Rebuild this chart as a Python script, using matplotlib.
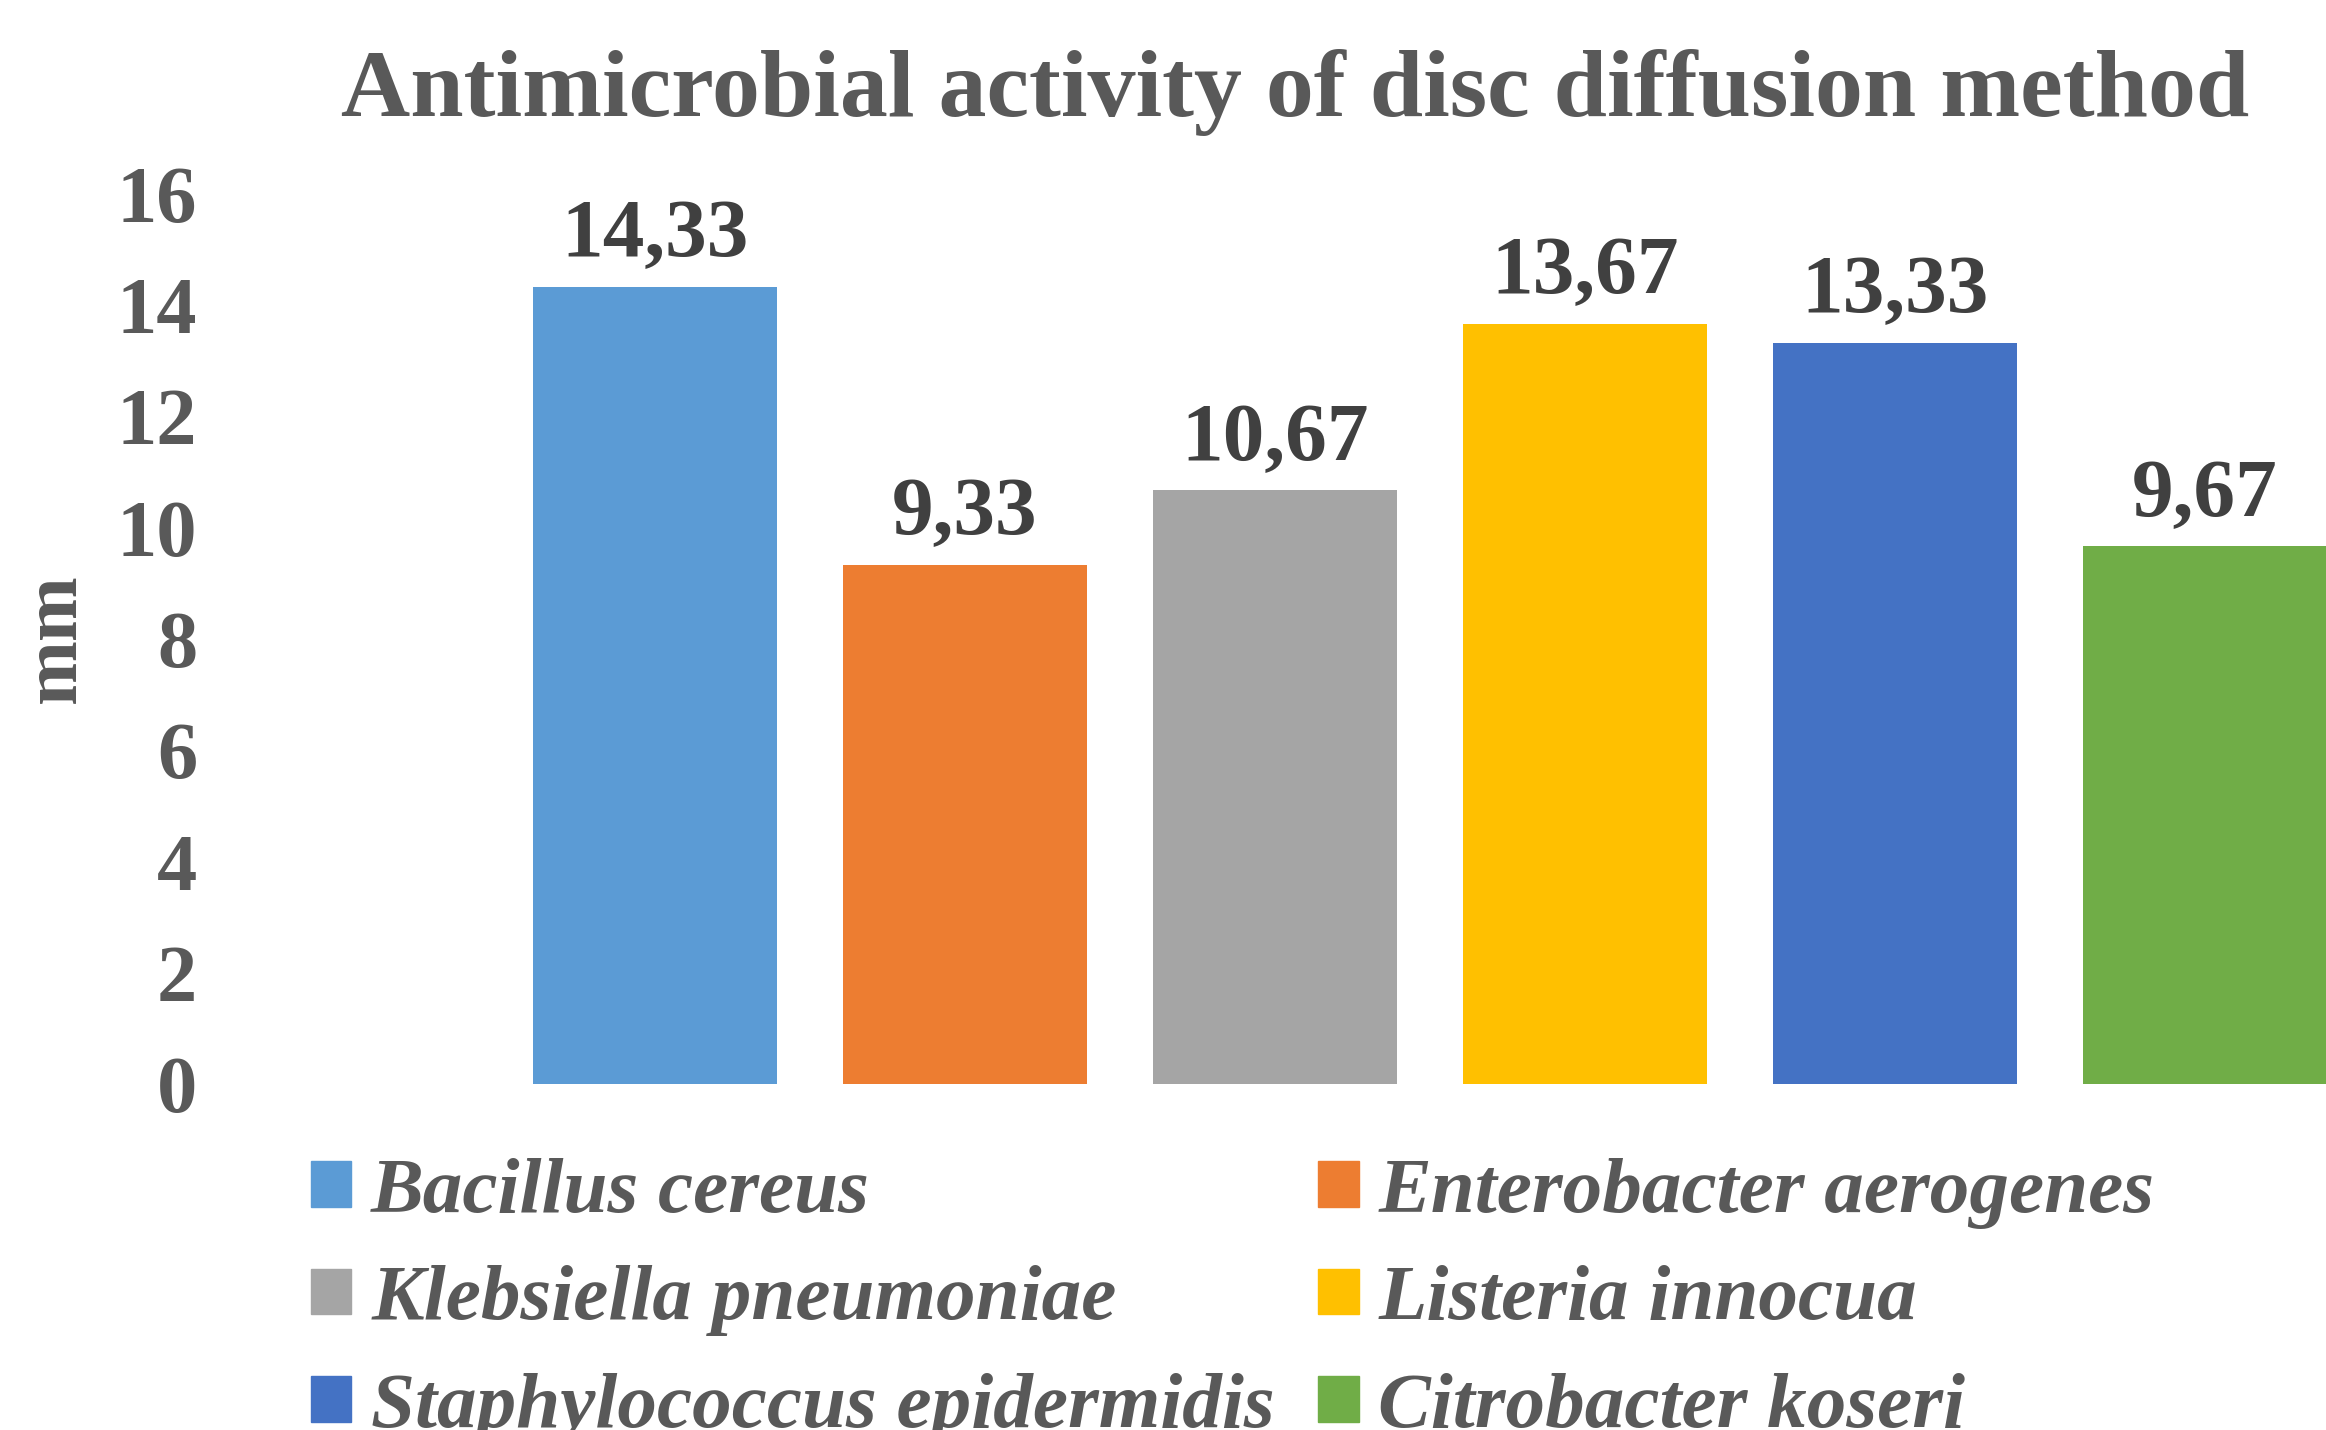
import numpy as np
import matplotlib.pyplot as plt
from matplotlib.patches import Patch

# dati
specie = ['Bacillus cereus', 'Enterobacter aerogenes', 'Klebsiella pneumoniae',
          'Listeria innocua', 'Staphylococcus epidermidis', 'Citrobacter koseri']
valori = [14.33, 9.33, 10.67, 13.67, 13.33, 9.67]
etichette = ['14,33', '9,33', '10,67', '13,67', '13,33', '9,67']
colori = ['#5B9BD5', '#ED7D31', '#A5A5A5', '#FFC000', '#4472C4', '#70AD47']
yticks = [0, 2, 4, 6, 8, 10, 12, 14, 16]

font = 'Liberation Serif'
grigio = '#595959'
scuro = '#404040'

fig = plt.figure(figsize=(23.26, 14.30), dpi=100)
# l'area del grafico esce a destra dalla figura (come nell'originale)
ax = fig.add_axes([500/2326, 1 - 1084/1430, 1860/2326, (1084-194)/1430])

x = np.arange(len(valori))
barre = ax.bar(x, valori, width=0.79, color=colori)
ax.set_xlim(-0.5, len(valori) - 0.5)
ax.set_ylim(0, 16)

for xi, v, lab in zip(x, valori, etichette):
    ax.annotate(lab, (xi, v), xytext=(0, 22), textcoords='offset points',
                ha='center', va='baseline', fontsize=60, fontweight='bold',
                family=font, color=scuro)

ax.set_yticks(yticks)
ax.set_yticklabels([str(t) for t in yticks], fontsize=58, fontweight='bold',
                   family=font, color=grigio)
ax.tick_params(axis='y', length=0, pad=218)
ax.set_xticks([])
for s in ax.spines.values():
    s.set_visible(False)

fig.text(56/2326, 1 - 638/1430, 'mm', rotation=90, ha='center', va='center',
         fontsize=56, fontweight='bold', family=font, color=grigio)

fig.text(1295/2326, 1 - 116/1430, 'Antimicrobial activity of disc diffusion method',
         ha='center', va='baseline', fontsize=69, fontweight='bold',
         family=font, color=grigio)

# legenda: 2 colonne, ordine per righe
ordine = [0, 2, 4, 1, 3, 5]
handles = [Patch(color=colori[i]) for i in ordine]
labels = [specie[i] for i in ordine]
leg = fig.legend(handles, labels, ncol=2, loc='upper left',
                 bbox_to_anchor=(311/2326, 1 - 1158/1430), frameon=False,
                 borderpad=0, borderaxespad=0, handlelength=0.51, handleheight=0.51,
                 handletextpad=0.25, columnspacing=0.55, labelspacing=0.46,
                 prop={'family': font, 'size': 57, 'weight': 'bold', 'style': 'italic'})
for t in leg.get_texts():
    t.set_color(grigio)

fig.savefig('out.png', dpi=100)
